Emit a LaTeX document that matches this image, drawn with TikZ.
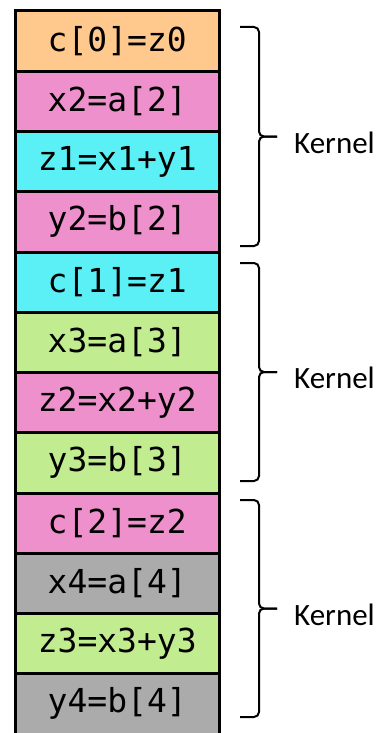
\documentclass[tikz,border=0pt]{standalone}
\usepackage{fontspec}
\usetikzlibrary{calc}
\setmainfont{Carlito}
\newfontfamily\codefont{DejaVu Sans Mono}
\definecolor{cOrange}{HTML}{FFC88C}
\definecolor{cPink}{HTML}{EE90CC}
\definecolor{cCyan}{HTML}{5BF0F5}
\definecolor{cGreen}{HTML}{C2EC90}
\definecolor{cGray}{HTML}{ABABAB}
\tikzset{
  cell/.style={draw=black, line width=3pt, minimum width=203.5pt, minimum height=60.25pt,
    inner sep=0pt, font=\codefont\fontsize{33}{36}\selectfont, text=black},
  bracepath/.style={draw=black, line width=2pt, rounded corners=5pt},
  kernlabel/.style={anchor=west, inner sep=0pt, font=\fontsize{31}{34}\selectfont}
}
\begin{document}
\begin{tikzpicture}[x=1pt, y=-1pt]
\useasboundingbox (0,0) rectangle (380,733);
\fill[white] (0,0) rectangle (380,733);
% stack of instruction cells
\foreach \i/\t/\c in {0/{c[0]=z0}/cOrange, 1/{x2=a[2]}/cPink, 2/{z1=x1+y1}/cCyan,
  3/{y2=b[2]}/cPink, 4/{c[1]=z1}/cCyan, 5/{x3=a[3]}/cGreen, 6/{z2=x2+y2}/cPink,
  7/{y3=b[3]}/cGreen, 8/{c[2]=z2}/cPink, 9/{x4=a[4]}/cGray, 10/{z3=x3+y3}/cGreen,
  11/{y4=b[4]}/cGray}
  \node[cell, fill=\c] (r\i) at (117.25, {11+60.25*\i+30.125}) {\t};
% kernel braces
\foreach \k/\top/\bot in {1/27/246, 2/263/481, 3/500/717} {
  \coordinate (m\k) at (259, {(\top+\bot)/2});
  \draw[bracepath] (240,\top) -- (259,\top) -- (m\k) -- ++(18,0);
  \draw[bracepath] ($(m\k)+(18,0)$) -- (m\k) -- (259,\bot) -- (240,\bot);
  \node[kernlabel] (k\k) at ($(m\k)+(35,6)$) {Kernel};
}
\end{tikzpicture}
\end{document}
